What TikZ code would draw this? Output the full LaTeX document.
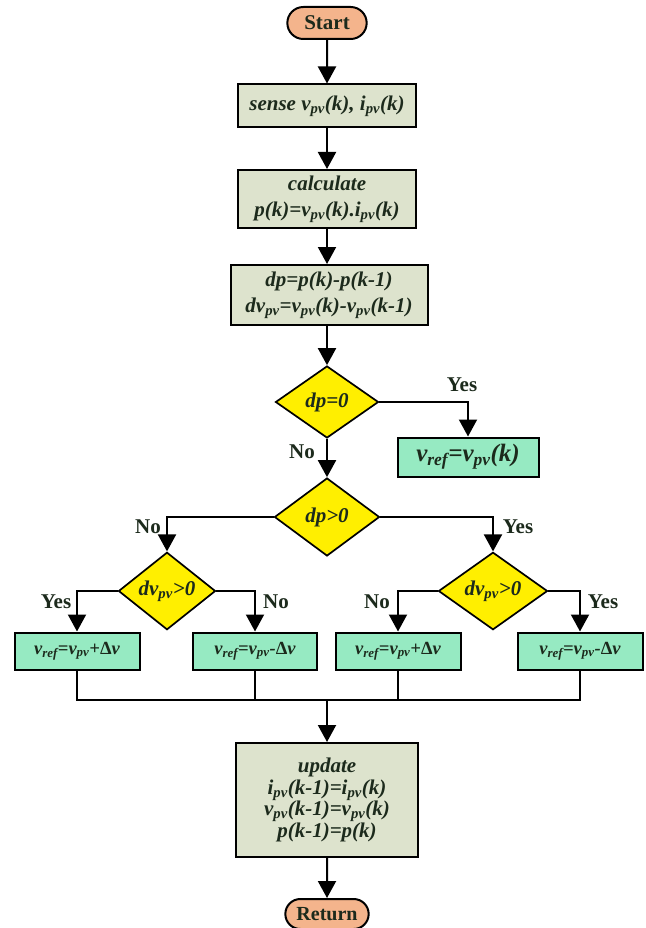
\documentclass[tikz,border=0pt]{standalone}
\usepackage{fontspec}
\setmainfont{Liberation Serif}
\usetikzlibrary{shapes.geometric,shapes.misc,arrows.meta}
\definecolor{termfill}{HTML}{F4B48C}
\definecolor{procfill}{HTML}{DDE3CD}
\definecolor{decfill}{HTML}{FFEF00}
\definecolor{actfill}{HTML}{96EAC2}
\definecolor{inkcol}{HTML}{1C2A1C}
\newcommand{\sbs}[1]{\textsubscript{#1}}
\newcommand{\dlt}{{\upshape Δ}}
\tikzset{
  term/.style={rounded rectangle,draw=black,line width=2pt,fill=termfill,minimum width=86pt,minimum height=32pt,text=inkcol,font=\fontsize{21}{24}\selectfont\bfseries},
  proc/.style={rectangle,draw=black,line width=2pt,fill=procfill,align=center,text=inkcol,font=\fontsize{21}{26}\selectfont\bfseries\itshape},
  dec/.style={diamond,draw=black,line width=1.7pt,fill=decfill,inner sep=0pt,text=inkcol,font=\fontsize{21}{24}\selectfont\bfseries\itshape},
  act/.style={rectangle,draw=black,line width=2pt,fill=actfill,text=inkcol,font=\fontsize{18.5}{22}\selectfont\bfseries\itshape},
  lbl/.style={text=inkcol,font=\fontsize{21}{24}\selectfont\bfseries},
  arr/.style={-{Triangle[width=18pt,length=17pt]},line width=2pt},
  ln/.style={line width=2pt}
}
\begin{document}
\begin{tikzpicture}[x=1pt,y=-1pt]
\useasboundingbox[fill=white](0,0)rectangle(645,928);
\node[term](start)at(327,23){Start};
\node[proc,minimum width=178pt,minimum height=43pt](sense)at(327,106){sense v\sbs{pv}(k), i\sbs{pv}(k)};
\node[proc,minimum width=178pt,minimum height=58pt](calc)at(327,199){calculate\\p(k)=v\sbs{pv}(k).i\sbs{pv}(k)};
\node[proc,minimum width=197pt,minimum height=60pt](diff)at(329,295){dp=p(k)-p(k-1)\\dv\sbs{pv}=v\sbs{pv}(k)-v\sbs{pv}(k-1)};
\node[dec,minimum width=103pt,minimum height=72pt](d1)at(327,402){dp=0};
\node[act,minimum width=141pt,minimum height=39pt,font=\fontsize{25}{28}\selectfont\bfseries\itshape](a0)at(468,457){v\sbs{ref}=v\sbs{pv}(k)};
\node[dec,minimum width=105pt,minimum height=78pt](d2)at(327,517){dp>0};
\node[dec,minimum width=97pt,minimum height=72pt](d3)at(167,591){dv\sbs{pv}>0};
\node[dec,minimum width=109pt,minimum height=73pt](d4)at(493,591){dv\sbs{pv}>0};
\node[act,minimum width=125pt,minimum height=37pt](a1)at(77,651){v\sbs{ref}=v\sbs{pv}+\dlt v};
\node[act,minimum width=124pt,minimum height=37pt](a2)at(255,651){v\sbs{ref}=v\sbs{pv}-\dlt v};
\node[act,minimum width=125pt,minimum height=37pt](a3)at(398,651){v\sbs{ref}=v\sbs{pv}+\dlt v};
\node[act,minimum width=125pt,minimum height=37pt](a4)at(580,651){v\sbs{ref}=v\sbs{pv}-\dlt v};
\node[proc,minimum width=182pt,minimum height=114pt,font=\fontsize{21}{21.5}\selectfont\bfseries\itshape](upd)at(327,800){update\\i\sbs{pv}(k-1)=i\sbs{pv}(k)\\v\sbs{pv}(k-1)=v\sbs{pv}(k)\\p(k-1)=p(k)};
\node[term,minimum width=90pt,minimum height=30pt,font=\fontsize{20}{24}\selectfont\bfseries](ret)at(327,914){Return};
\coordinate(m)at(327,700);
\draw[arr](start)--(sense);
\draw[arr](sense)--(calc);
\draw[arr](calc)--(calc|-diff.north);
\draw[arr](diff.south-|d1.north)--(d1.north);
\draw[arr](d1.east)-|(a0.north);
\draw[arr](d1.south)--(d2.north);
\draw[arr](d2.west)-|(d3.north);
\draw[arr](d2.east)-|(d4.north);
\draw[arr](d3.west)-|(a1.north);
\draw[arr](d3.east)-|(a2.north);
\draw[arr](d4.west)-|(a3.north);
\draw[arr](d4.east)-|(a4.north);
\draw[ln](a1.south)--(a1.south|-m)--(a4.south|-m)--(a4.south);
\draw[ln](a2.south)--(a2.south|-m);
\draw[ln](a3.south)--(a3.south|-m);
\draw[arr](m)--(upd.north);
\draw[arr](upd)--(ret);
\node[lbl](y1)at(462,385){Yes};
\node[lbl](n1)at(302,452){No};
\node[lbl](n2)at(148,527){No};
\node[lbl](y2)at(518,527){Yes};
\node[lbl](y3)at(56,602){Yes};
\node[lbl](n3)at(276,602){No};
\node[lbl](n4)at(377,602){No};
\node[lbl](y4)at(603,602){Yes};
\end{tikzpicture}
\end{document}
